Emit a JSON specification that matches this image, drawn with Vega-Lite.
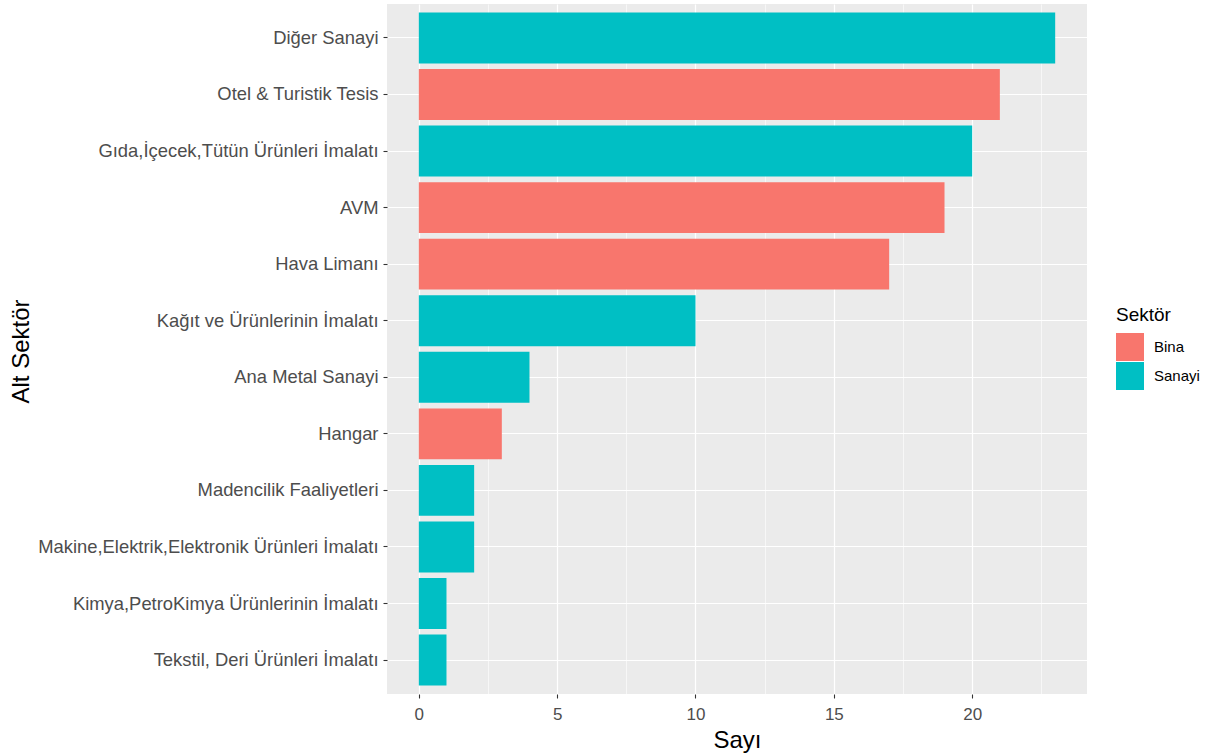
{
  "$schema": "https://vega.github.io/schema/vega-lite/v6.json",
  "autosize": {"type": "none"},
  "width": 700,
  "height": 690,
  "padding": {"left": 387, "top": 4, "right": 130, "bottom": 62},
  "background": "white",
  "config": {
    "view": {"fill": "#EBEBEB", "stroke": null},
    "font": "Liberation Sans",
    "axis": {
      "domain": false,
      "tickColor": "#333333",
      "tickSize": 4,
      "tickWidth": 1.1,
      "labelColor": "#4D4D4D",
      "labelFontSize": 17,
      "labelFont": "Liberation Sans",
      "titleFont": "Liberation Sans",
      "titleFontWeight": "normal",
      "titleFontSize": 24,
      "titleColor": "#000000",
      "gridColor": "#FFFFFF",
      "gridWidth": 1.2
    },
    "legend": {
      "titleFont": "Liberation Sans",
      "labelFont": "Liberation Sans",
      "titleFontWeight": "normal"
    }
  },
  "data": {
    "values": [
      {"AltSektor": "Diğer Sanayi", "Sayi": 23, "Sektor": "Sanayi"},
      {"AltSektor": "Otel & Turistik Tesis", "Sayi": 21, "Sektor": "Bina"},
      {"AltSektor": "Gıda,İçecek,Tütün Ürünleri İmalatı", "Sayi": 20, "Sektor": "Sanayi"},
      {"AltSektor": "AVM", "Sayi": 19, "Sektor": "Bina"},
      {"AltSektor": "Hava Limanı", "Sayi": 17, "Sektor": "Bina"},
      {"AltSektor": "Kağıt ve Ürünlerinin İmalatı", "Sayi": 10, "Sektor": "Sanayi"},
      {"AltSektor": "Ana Metal Sanayi", "Sayi": 4, "Sektor": "Sanayi"},
      {"AltSektor": "Hangar", "Sayi": 3, "Sektor": "Bina"},
      {"AltSektor": "Madencilik Faaliyetleri", "Sayi": 2, "Sektor": "Sanayi"},
      {"AltSektor": "Makine,Elektrik,Elektronik Ürünleri İmalatı", "Sayi": 2, "Sektor": "Sanayi"},
      {"AltSektor": "Kimya,PetroKimya Ürünlerinin İmalatı", "Sayi": 1, "Sektor": "Sanayi"},
      {"AltSektor": "Tekstil, Deri Ürünleri İmalatı", "Sayi": 1, "Sektor": "Sanayi"}
    ]
  },
  "layer": [
    {
      "mark": {"type": "bar"},
      "encoding": {
        "x": {
          "field": "Sayi", "type": "quantitative",
          "scale": {"domain": [-1.15, 24.15], "nice": false, "zero": false},
          "axis": {"orient": "bottom", "values": [0, 5, 10, 15, 20], "title": "Sayı", "grid": true, "labelPadding": 8, "titleY": 34, "titleBaseline": "top"}
        },
        "y": {
          "field": "AltSektor", "type": "nominal",
          "sort": null,
          "scale": {"paddingInner": 0.1, "paddingOuter": 0.15},
          "axis": {"orient": "left", "title": "Alt Sektör", "grid": true, "labelPadding": 5, "labelLimit": 0, "labelFontSize": 18.4, "titleX": -354, "titleY": 347, "titleAngle": -90, "titleAlign": "center", "titleBaseline": "bottom"}
        },
        "color": {
          "field": "Sektor", "type": "nominal",
          "scale": {"domain": ["Bina", "Sanayi"], "range": ["#F8766D", "#00BFC4"]},
          "legend": {
            "title": "Sektör",
            "orient": "none",
            "legendX": 729,
            "legendY": 302,
            "titleFontSize": 19,
            "titleColor": "#000000",
            "labelFontSize": 15,
            "labelColor": "#000000",
            "symbolType": "square",
            "symbolSize": 784,
            "symbolStrokeWidth": 0,
            "symbolOpacity": 1,
            "rowPadding": 1,
            "labelOffset": 10,
            "titlePadding": 8
          }
        }
      }
    },
    {
      "mark": {"type": "tick", "opacity": 0},
      "encoding": {
        "x": {
          "field": "Sayi", "type": "quantitative",
          "scale": {"domain": [-1.15, 24.15], "nice": false, "zero": false},
          "axis": {"orient": "bottom", "values": [2.5, 7.5, 12.5, 17.5, 22.5], "labels": false, "ticks": false, "title": null, "grid": true, "gridWidth": 0.6}
        },
        "y": {
          "field": "AltSektor", "type": "nominal",
          "sort": null
        }
      }
    }
  ],
  "resolve": {"axis": {"x": "independent"}}
}
